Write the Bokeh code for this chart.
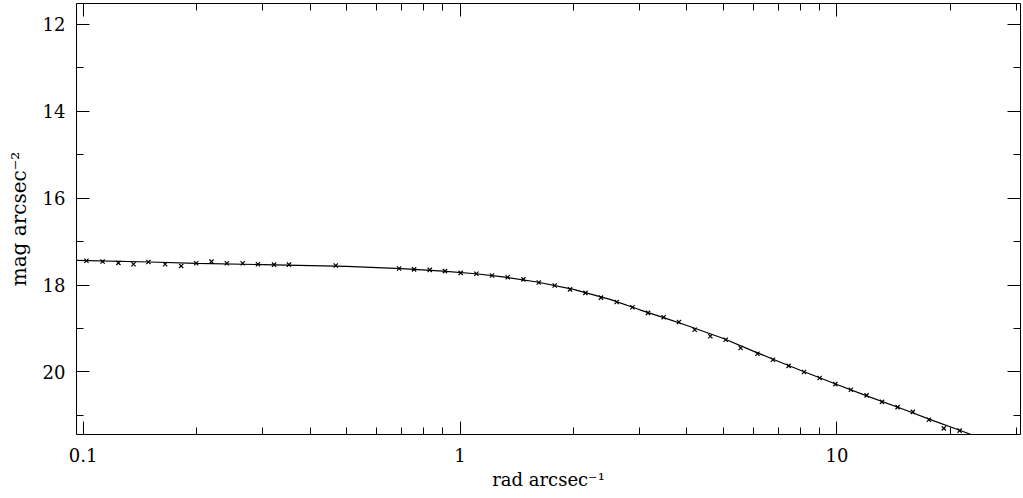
from bokeh.plotting import figure
from bokeh.models import (Range1d, FixedTicker, LinearAxis, LogAxis,
                          CustomJSTickFormatter)
from bokeh.embed import file_html
from bokeh.resources import INLINE

# measured surface-brightness profile (radius in arcsec, mag/arcsec^2)
rad = [0.102, 0.1126, 0.124, 0.136, 0.149, 0.165, 0.182, 0.1995, 0.219, 0.2405,
       0.265, 0.291, 0.321, 0.3516, 0.468, 0.689, 0.755, 0.831, 0.912, 1.004,
       1.105, 1.216, 1.338, 1.473, 1.618, 1.783, 1.958, 2.151, 2.366, 2.604,
       2.867, 3.153, 3.470, 3.810, 4.194, 4.615, 5.069, 5.553, 6.152, 6.765,
       7.445, 8.177, 8.997, 9.903, 10.89, 11.99, 13.17, 14.49, 15.91, 17.54,
       19.22, 21.16]
mag = [17.44, 17.46, 17.49, 17.52, 17.47, 17.52, 17.56, 17.50, 17.46, 17.50,
       17.50, 17.52, 17.53, 17.53, 17.55, 17.62, 17.64, 17.65, 17.68, 17.72,
       17.74, 17.78, 17.82, 17.87, 17.94, 18.01, 18.10, 18.18, 18.29, 18.39,
       18.51, 18.64, 18.74, 18.85, 19.03, 19.18, 19.26, 19.45, 19.58, 19.72,
       19.86, 20.00, 20.14, 20.28, 20.41, 20.54, 20.69, 20.81, 20.92, 21.10,
       21.30, 21.35]

# fitted model curve
model_rad = [0.096, 0.15, 0.2, 0.3, 0.5, 0.7, 0.9, 1.1, 1.3, 1.6, 2.0, 2.5, 3.0,
             3.5, 4.0, 5.0, 6.0, 7.0, 8.0, 10.0, 12.0, 15.0, 18.0, 21.0, 25.0]
model_mag = [17.43, 17.47, 17.50, 17.53, 17.57, 17.62, 17.68, 17.74, 17.81,
             17.93, 18.10, 18.33, 18.57, 18.76, 18.93, 19.23, 19.52, 19.76,
             19.96, 20.29, 20.55, 20.86, 21.12, 21.33, 21.58]

x_major = [0.1, 1, 10]
x_minor = [0.2, 0.3, 0.4, 0.5, 0.6, 0.7, 0.8, 0.9,
           2, 3, 4, 5, 6, 7, 8, 9, 20, 30]
y_major = [12, 14, 16, 18, 20]
y_minor = [13, 15, 17, 19, 21]

FONT = "DejaVu Serif"

p = figure(width=1023, height=498, x_axis_type="log",
           x_range=Range1d(0.096, 30.7), y_range=Range1d(21.44, 11.52),
           output_backend="svg", toolbar_location=None,
           min_border_left=76, min_border_right=3, min_border_top=3,
           min_border_bottom=64)
p.xgrid.visible = False
p.ygrid.visible = False
p.outline_line_color = "black"
p.outline_line_width = 1
p.background_fill_color = "white"
p.border_fill_color = "white"

p.line(model_rad, model_mag, line_color="black", line_width=1.2)
p.scatter(rad, mag, marker="x", size=6, line_color="black", line_width=1.2)


def style(ax, labels=True, tick_size="18px", label_size="18px"):
    ax.axis_line_color = None
    ax.major_tick_in = 13
    ax.major_tick_out = 0
    ax.minor_tick_in = 7
    ax.minor_tick_out = 0
    ax.major_tick_line_color = "black"
    ax.minor_tick_line_color = "black"
    if labels:
        ax.major_label_text_font = FONT
        ax.major_label_text_font_size = tick_size
        ax.major_label_text_color = "black"
        ax.axis_label_text_font = FONT
        ax.axis_label_text_font_size = label_size
        ax.axis_label_text_font_style = "normal"
        ax.axis_label_text_color = "black"
    else:
        ax.major_label_text_font_size = "1px"
        ax.major_label_text_color = None
        ax.major_label_standoff = 0


xa = p.xaxis[0]
xa.ticker = FixedTicker(ticks=x_major, minor_ticks=x_minor)
xa.formatter = CustomJSTickFormatter(code="return String(tick);")
xa.axis_label = "rad arcsec\u207b\u00b9"
xa.major_label_standoff = 13
xa.axis_label_standoff = 4
style(xa, label_size="18px")

ya = p.yaxis[0]
ya.ticker = FixedTicker(ticks=y_major, minor_ticks=y_minor)
ya.axis_label = "mag arcsec\u207b\u00b2"
ya.major_label_standoff = 11
ya.axis_label_standoff = 9
style(ya, label_size="20px")

top = LogAxis(ticker=FixedTicker(ticks=x_major, minor_ticks=x_minor))
style(top, labels=False)
p.add_layout(top, "above")

right = LinearAxis(ticker=FixedTicker(ticks=y_major, minor_ticks=y_minor))
style(right, labels=False)
p.add_layout(right, "right")

open("out.html", "w").write(file_html(p, INLINE))
